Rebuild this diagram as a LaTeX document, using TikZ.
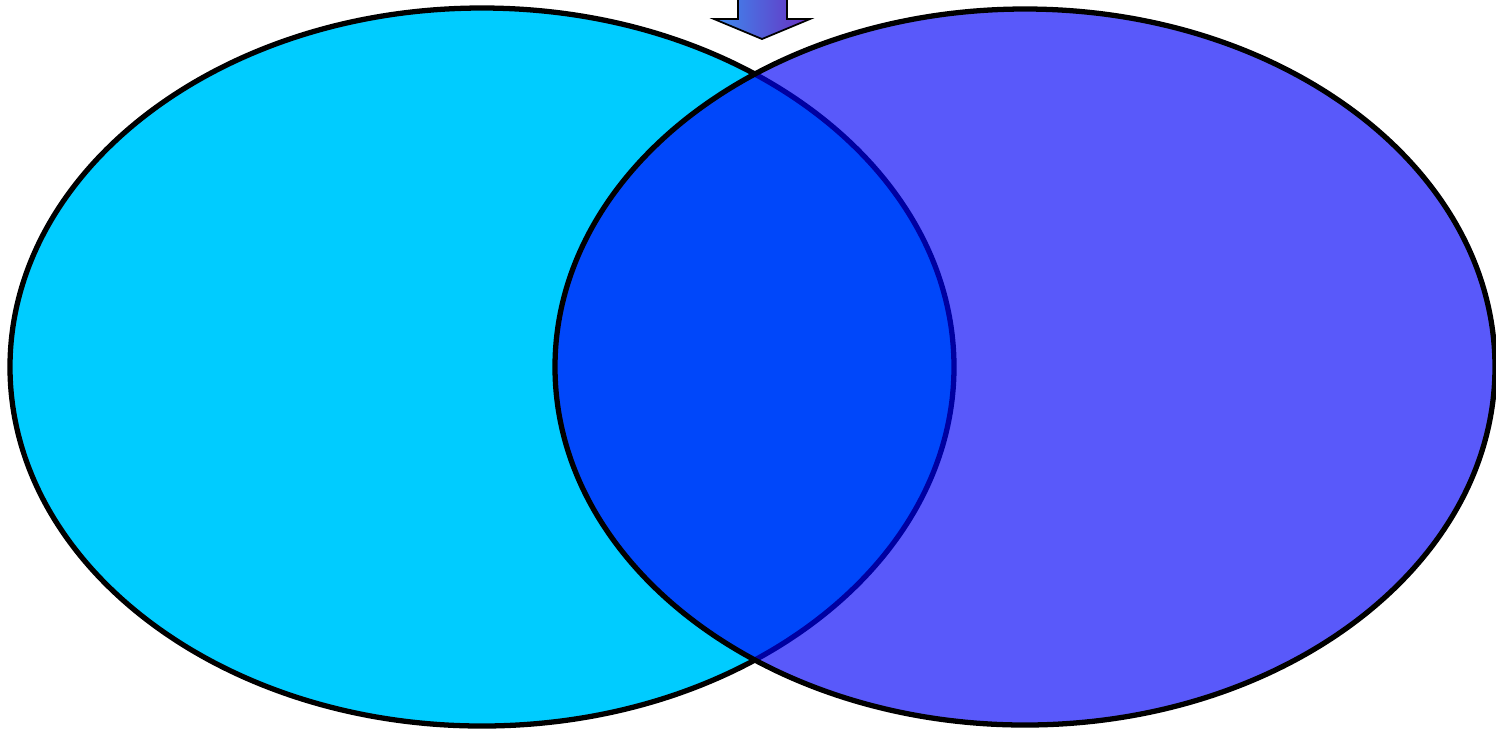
\documentclass[tikz,border=0pt]{standalone}
\usetikzlibrary{shadings}
\definecolor{leftcyan}{HTML}{00CCFF}
\definecolor{rightblue}{HTML}{0000F8}
\definecolor{arrowA}{HTML}{3C8CF0}
\definecolor{arrowB}{HTML}{6A2FC0}
\tikzset{
  setborder/.style={draw=black, line width=1.5pt},
  leftset/.style={fill=leftcyan},
  rightsetfill/.style={fill=rightblue, fill opacity=0.65},
  downarrow/.style={draw=black, line width=0.5pt, left color=arrowA, right color=arrowB}
}
\begin{document}
\begin{tikzpicture}[x=0.01cm, y=-0.01cm]
\useasboundingbox (0,0) rectangle (1496,729);
% left set
\path[leftset, setborder] (482,367) ellipse [x radius=472, y radius=359];
% right set (translucent fill, opaque border)
\path[rightsetfill] (1025,367) ellipse [x radius=470, y radius=358];
\path[setborder] (1025,367) ellipse [x radius=470, y radius=358];
% arrow at top
\path[downarrow] (738,-5) -- (787,-5) -- (787,19) -- (810,19) -- (762,39) -- (714,19) -- (738,19) -- cycle;
\end{tikzpicture}
\end{document}
